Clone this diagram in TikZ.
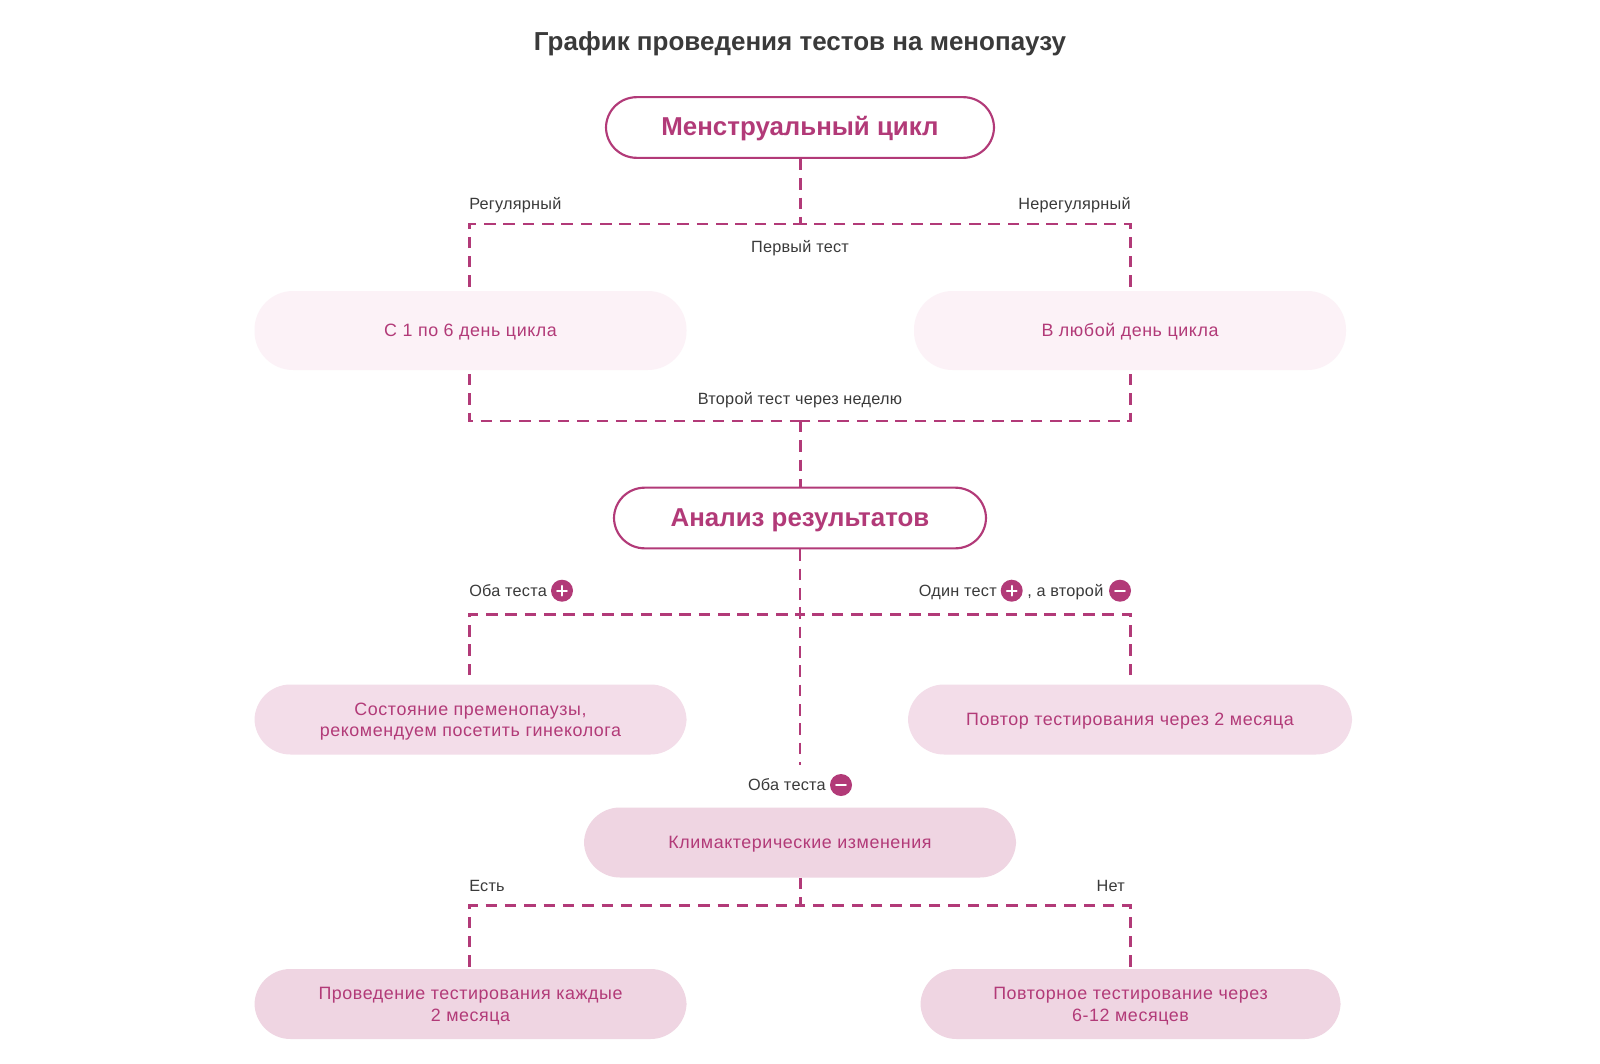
\documentclass[tikz,border=0pt]{standalone}
\usepackage{fontspec}
\setmainfont{Liberation Sans}
\newfontfamily\bodyf{Liberation Sans}[LetterSpace=3.2]
\newfontfamily\labf{Liberation Sans}[LetterSpace=1.5]
\definecolor{mag}{HTML}{B23A78}
\definecolor{inkc}{HTML}{3A3A3A}
\definecolor{fillA}{HTML}{FCF2F7}
\definecolor{fillB}{HTML}{F3DDE9}
\definecolor{fillC}{HTML}{EFD5E2}
\newcommand{\pstrut}{\rule[-2.6pt]{0pt}{15pt}}
\newcommand{\hstrut}{\rule[-5.4pt]{0pt}{23pt}}
\tikzset{
  x=0.75pt,y=-0.75pt,
  pill/.style={rounded corners=27pt,minimum height=#1*0.75pt,inner sep=0pt,align=center,text=mag,font=\bodyf\fontsize{13.4}{15}\selectfont},
  headbox/.style={draw=mag,line width=1.6pt,fill=white,rounded corners=23pt,minimum height=45.5pt,inner sep=0pt,text=mag,font=\fontsize{19.4}{23}\selectfont\bfseries},
  dashline/.style={draw=mag,line width=2.2pt,dash pattern=on 8.6pt off 5.9pt},
  lab/.style={text=inkc,inner sep=0pt,text height=9pt,text depth=3pt,yshift=-1.2pt,font=\labf\fontsize{12.2}{14}\selectfont},
  sign/.style={circle,fill=mag,minimum size=16.5pt,inner sep=0pt},
  sbar/.style={draw=white,line width=1.5pt,line cap=round}
}
\newcommand{\plusat}[1]{\draw[sbar] ([xshift=-3.6pt]#1.center) -- ([xshift=3.6pt]#1.center) ([yshift=-3.6pt]#1.center) -- ([yshift=3.6pt]#1.center);}
\newcommand{\minusat}[1]{\draw[sbar] ([xshift=-3.6pt]#1.center) -- ([xshift=3.6pt]#1.center);}
\begin{document}
\begin{tikzpicture}
\useasboundingbox[fill=white] (0,0) rectangle (1600,1064);
\node[text=inkc,inner sep=0pt,text height=15pt,text depth=4pt,font=\fontsize{19.5}{24}\selectfont\bfseries] (title) at (800,43.5) {График проведения тестов на менопаузу};
% boxes
\node[headbox,minimum width=291pt] (m) at (800,127.5) {\hstrut Менструальный цикл};
\node[pill=79,fill=fillA,minimum width=324pt,rounded corners=29pt] (b1) at (470.5,330.5) {\pstrut С 1 по 6 день цикла};
\node[pill=79,fill=fillA,minimum width=324pt,rounded corners=29pt] (b2) at (1130,330.5) {\pstrut В любой день цикла};
\node[headbox,minimum width=279pt] (a) at (800,518) {\hstrut Анализ результатов};
\node[pill=70,fill=fillB,minimum width=324pt] (c1) at (470.5,719.5) {\pstrut Состояние пременопаузы,\\\pstrut рекомендуем посетить гинеколога};
\node[pill=70,fill=fillB,minimum width=333pt] (c2) at (1130,719.5) {\pstrut Повтор тестирования через 2 месяца};
\node[pill=70,fill=fillC,minimum width=324pt] (k) at (800,842.5) {\pstrut Климактерические изменения};
\node[pill=70,fill=fillC,minimum width=324pt] (d1) at (470.5,1004) {\pstrut Проведение тестирования каждые\\\pstrut 2 месяца};
\node[pill=70,fill=fillC,minimum width=315pt] (d2) at (1130.5,1004) {\pstrut Повторное тестирование через\\\pstrut 6-12 месяцев};
% junctions
\coordinate (j1l) at (469.5,224);
\coordinate (j1r) at (1130.5,224);
\coordinate (j1c) at (800.5,224);
\coordinate (j2l) at (469.5,421);
\coordinate (j2r) at (1130.5,421);
\coordinate (j2c) at (800.5,421);
\coordinate (j3l) at (469.5,614.5);
\coordinate (j3r) at (1130.5,614.5);
\coordinate (j3c) at (800,614.5);
\coordinate (j4l) at (469.5,905.5);
\coordinate (j4r) at (1130.5,905.5);
\coordinate (j4c) at (800.5,905.5);
\coordinate (e5) at (800,765);
% connectors
\draw[dashline] (m.south -| j1c) -- (j1c);
\draw[dashline] (j1l |- b1.north) ++(0,-4) -- (j1l) -- (j1c);
\draw[dashline] (j1r |- b2.north) ++(0,-4) -- (j1r) -- (j1c);
\draw[dashline] (j2l) ++(0,-47) -- (j2l) -- (j2c);
\draw[dashline] (j2r) ++(0,-47) -- (j2r) -- (j2c);
\draw[dashline] (j2c) -- (j2c |- a.north);
\draw[dashline] (a.south) -- (e5);
\draw[dashline] (j3l |- c1.north) ++(0,-9) -- (j3l) -- (j3c);
\draw[dashline] (j3r |- c2.north) ++(0,-9) -- (j3r) -- (j3c);
\draw[dashline] (k.south -| j4c) -- (j4c);
\draw[dashline] (j4l |- d1.north) ++(0,-2) -- (j4l) -- (j4c);
\draw[dashline] (j4r |- d2.north) ++(0,-2) -- (j4r) -- (j4c);
% labels
\node[lab,anchor=west] (l1) at (469,203.5) {Регулярный};
\node[lab,anchor=east] (l2) at (1131,203.5) {Нерегулярный};
\node[lab] (l3) at (800,246.5) {Первый тест};
\node[lab] (l4) at (800,399) {Второй тест через неделю};
\node[lab,anchor=west] (l5) at (469,590.5) {Оба теста};
\node[sign] (s1) at (562,590.7) {}; \plusat{s1}
\node[lab,anchor=east] (l6) at (997,590.5) {Один тест};
\node[sign] (s2) at (1011.7,590.7) {}; \plusat{s2}
\node[lab,anchor=west] (l7) at (1027,590.5) {, а второй};
\node[sign] (s3) at (1120,590.7) {}; \minusat{s3}
\node[lab,anchor=east] (l8) at (826,784.5) {Оба теста};
\node[sign] (s4) at (841,785) {}; \minusat{s4}
\node[lab,anchor=west] (l9) at (469,885.5) {Есть};
\node[lab,anchor=east] (l10) at (1125,885.5) {Нет};
\end{tikzpicture}
\end{document}
